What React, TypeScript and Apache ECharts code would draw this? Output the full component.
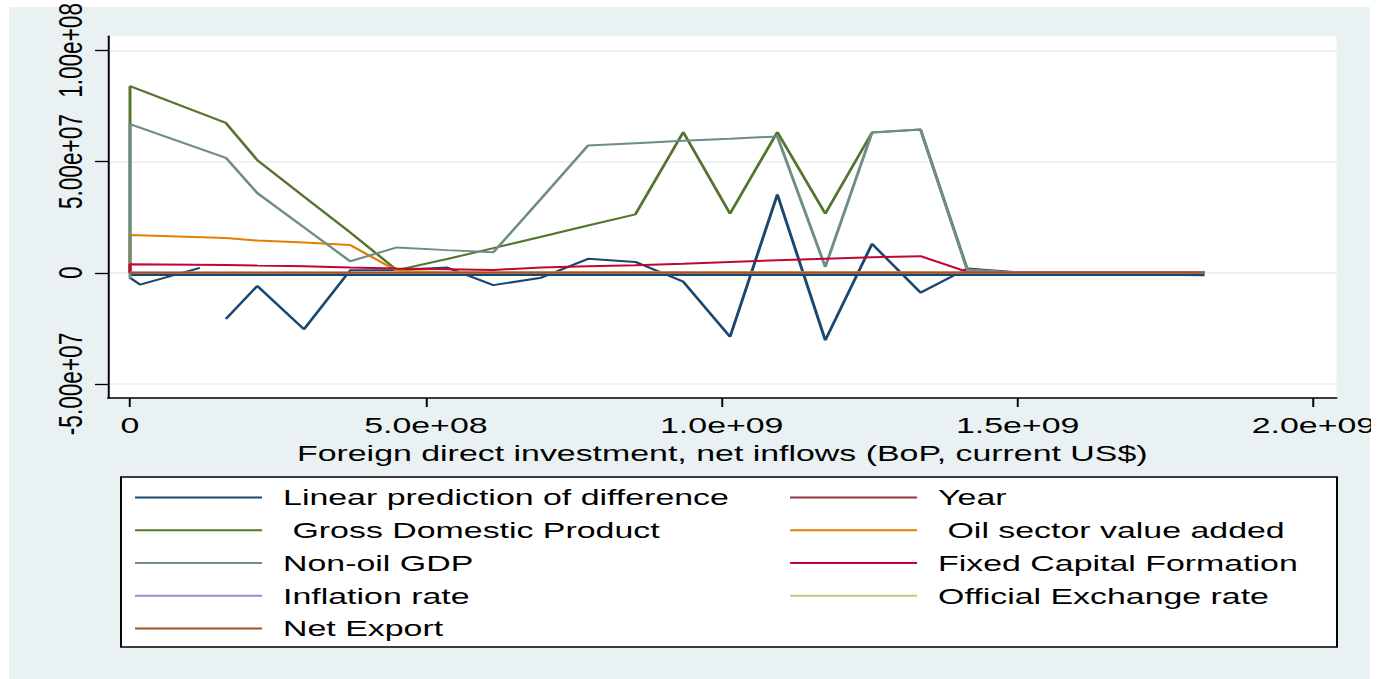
import React, { useEffect, useRef } from 'react';
import * as echarts from 'echarts';

// The reference picture is horizontally stretched ~1.5x; we draw at base width and stretch the same way.
const S = 1.5;
const BASE_W = 1390 / S;
const FONT = "'Liberation Sans', Arial, sans-serif";
const FS = 22.6;

// X: Foreign direct investment, net inflows (BoP, current US$)
const fdi = [0, 0, 1.62e8, 2.15e8, 2.94e8, 3.72e8, 4.51e8, 5.36e8, 6.14e8, 6.95e8, 7.74e8, 8.54e8, 9.35e8, 1.014e9, 1.094e9, 1.175e9, 1.254e9, 1.336e9, 1.415e9, 1.493e9, 1.577e9, 1.657e9, 1.736e9, 1.816e9];

const gdp = [0, 8.39e7, 6.74e7, 5.07e7, 3.43e7, 1.82e7, 1.2e6, 6.2e6, 1.11e7, 1.62e7, 2.13e7, 2.63e7, 6.33e7, 2.66e7, 6.33e7, 2.66e7, 6.31e7, 6.44e7, 1.5e6, 0, 0, 0, 0, 0];
const oilVA = [0, 1.70e7, 1.56e7, 1.45e7, 1.36e7, 1.25e7, 9e5, 2e5, 2e5, 2e5, 2e5, 2e5, 2e5, 2e5, 2e5, 2e5, 2e5, 2e5, 2e5, 2e5, 2e5, 2e5, 2e5, 2e5];
const nonOilGdp = [-2.66e6, 6.69e7, 5.17e7, 3.59e7, 2.04e7, 5.2e6, 1.14e7, 1.02e7, 9.2e6, 3.34e7, 5.72e7, 5.83e7, 5.94e7, 6.03e7, 6.13e7, 2.66e6, 6.31e7, 6.44e7, 1.46e6, 2e5, 0, 0, 0, 0];
const fixedCap = [0, 3.86e6, 3.55e6, 3.3e6, 3.0e6, 2.4e6, 1.9e6, 1.6e6, 1.3e6, 2.35e6, 2.9e6, 3.4e6, 4.1e6, 4.9e6, 5.6e6, 6.3e6, 7.0e6, 7.5e6, 4e5, 2e5, 2e5, 2e5, 2e5, 2e5];
const year = [0, 0, 0, 0, 0, 0, 0, 0, 0, 0, 0, 0, 0, 0, 0, 0, 0, 0, 0, 0, 0, 0, 0, 0];
const inflation = [0, 0, 0, 0, 0, 0, 0, 0, 0, 0, 0, 0, 0, 0, 0, 0, 0, 0, 0, 0, 0, 0, 0, 0];
const exchRate = [0, 0, 0, 0, 0, 0, 0, 0, 0, 0, 0, 0, 0, 0, 0, 0, 0, 0, 0, 0, 0, 0, 0, 0];
const netExport = [0, 0, 0, 0, 0, 0, 0, 0, 0, 0, 0, 0, 0, 0, 0, 0, 0, 0, 0, 0, 0, 0, 0, 0];

// Linear prediction of difference (own x values, null = gap)
const predX = [0, 1.816e9, null, 0, 1.7e7, 1.18e8, null, 1.62e8, 2.15e8, 2.94e8, 3.72e8, 4.51e8, 5.36e8, 6.14e8, 6.95e8, 7.74e8, 8.54e8, 9.35e8, 1.014e9, 1.094e9, 1.175e9, 1.254e9, 1.336e9, 1.415e9, 1.493e9, 1.577e9, 1.657e9, 1.736e9, 1.816e9];
const predY = [-1.0e6, -1.0e6, null, -2.2e6, -5.3e6, 2.2e6, null, -2.08e7, -5.9e6, -2.54e7, 1.1e6, 1.3e6, 2.35e6, -5.54e6, -2.2e6, 6.3e6, 4.9e6, -4.0e6, -2.88e7, 3.52e7, -3.03e7, 1.3e7, -8.9e6, 1.9e6, 4e5, -4e5, -9e5, -9e5, -1.1e6];

const xTicks = [0, 5e8, 1e9, 1.5e9, 2e9];
const yTicks = [-5e7, 0, 5e7, 1e8];

const names = [
  'Linear prediction of difference',
  'Year',
  ' Gross Domestic Product',
  ' Oil sector value added',
  'Non-oil GDP',
  'Fixed Capital Formation',
  'Inflation rate',
  'Official Exchange rate',
  'Net Export',
];
const colors = ['#1a476f', '#90353b', '#55752f', '#e37e00', '#6e8e84', '#c10534', '#938dd2', '#cac27e', '#a0522d'];

function expFmt(v: number, digits: number): string {
  if (v === 0) return '0';
  const s = v.toExponential(digits);
  const [m, e] = s.split('e');
  const sign = e[0] === '-' ? '-' : '+';
  const n = e.replace(/^[+-]/, '');
  return m + 'e' + sign + (n.length < 2 ? '0' + n : n);
}

export default function App() {
  const ref = useRef<HTMLDivElement>(null);
  useEffect(() => {
    const chart = echarts.init(ref.current!, null, { renderer: 'svg' });
    const zip = (ys: number[]) => fdi.map((x, i) => [x, ys[i]]);
    const seriesData = [
      predX.map((x, i) => [x, predY[i]]),
      zip(year),
      zip(gdp),
      zip(oilVA),
      zip(nonOilGdp),
      zip(fixedCap),
      zip(inflation),
      zip(exchRate),
      zip(netExport),
    ];
    const gridLeft = 108 / S;
    const gridRight = BASE_W - 1336 / S;
    const legendCommon = {
      orient: 'vertical',
      top: 486,
      padding: 0,
      itemWidth: 84.7,
      itemHeight: 2,
      itemGap: 9.75,
      icon: 'rect',
      selectedMode: false,
      z: 10,
      textStyle: { fontFamily: FONT, fontSize: FS, color: '#000', lineHeight: 22, padding: [0, 0, 0, 9] },
    };
    chart.setOption({
      animation: false,
      backgroundColor: '#ffffff',
      textStyle: { fontFamily: FONT },
      grid: {
        left: gridLeft,
        right: gridRight,
        top: 31,
        bottom: 679 - 398,
        show: true,
        backgroundColor: '#ffffff',
        borderWidth: 0,
      },
      xAxis: {
        type: 'value',
        min: -3.719e7,
        max: 2.0389e9,
        name: 'Foreign direct investment, net inflows (BoP, current US$)',
        nameLocation: 'middle',
        nameGap: 33,
        nameTextStyle: { fontFamily: FONT, fontSize: FS, color: '#000' },
        axisLine: { show: true, onZero: false, lineStyle: { color: '#000', width: 1.5 } },
        axisTick: { show: true, customValues: xTicks, length: 9, lineStyle: { color: '#000', width: 1.3 } },
        axisLabel: {
          customValues: xTicks,
          formatter: (v: number) => expFmt(v, 1),
          margin: 16,
          fontFamily: FONT,
          fontSize: FS,
          color: '#000',
        },
        splitLine: { show: false },
      },
      yAxis: {
        type: 'value',
        min: -5.63e7,
        max: 1.0638e8,
        axisLine: { show: true, onZero: false, lineStyle: { color: '#000', width: 1.3 } },
        axisTick: { show: true, customValues: yTicks, length: 8.7, lineStyle: { color: '#000', width: 1.3 } },
        axisLabel: {
          customValues: yTicks,
          rotate: 90,
          formatter: (v: number) => expFmt(v, 2),
          margin: 14,
          fontFamily: FONT,
          fontSize: FS,
          color: '#000',
        },
        splitLine: { show: true, customValues: yTicks, lineStyle: { color: '#e6eef0', width: 1.5 } },
      },
      legend: [
        { ...legendCommon, left: 90, data: [names[0], names[2], names[4], names[6], names[8]] },
        { ...legendCommon, left: 526.7, data: [names[1], names[3], names[5], names[7]] },
      ],
      graphic: [
        {
          type: 'rect',
          z: -10,
          silent: true,
          shape: { x: 9 / S, y: 7, width: (1370 - 9) / S, height: 672 },
          style: { fill: '#eaf1f3' },
        },
        {
          type: 'rect',
          z: 3,
          silent: true,
          shape: { x: 121 / S, y: 477, width: (1337 - 121) / S, height: 170 },
          style: { fill: '#ffffff', stroke: '#000', lineWidth: 1.3 },
        },
        {
          type: 'rect',
          z: 100,
          silent: true,
          shape: { x: 1371 / S, y: 0, width: BASE_W - 1371 / S + 2, height: 679 },
          style: { fill: '#ffffff' },
        },
      ],
      series: names.map((n, i) => ({
        name: n,
        type: 'line',
        data: seriesData[i],
        color: colors[i],
        showSymbol: false,
        symbol: 'none',
        connectNulls: false,
        lineStyle: { width: 2, color: colors[i] },
        z: 2,
      })),
    });
    return () => chart.dispose();
  }, []);
  return (
    <div style={{ position: 'absolute', left: 0, top: 0, width: 1390, height: 679, overflow: 'hidden', background: '#fff' }}>
      <div
        ref={ref}
        style={{ width: BASE_W, height: 679, transform: `scaleX(${S})`, transformOrigin: '0 0' }}
      />
    </div>
  );
}
